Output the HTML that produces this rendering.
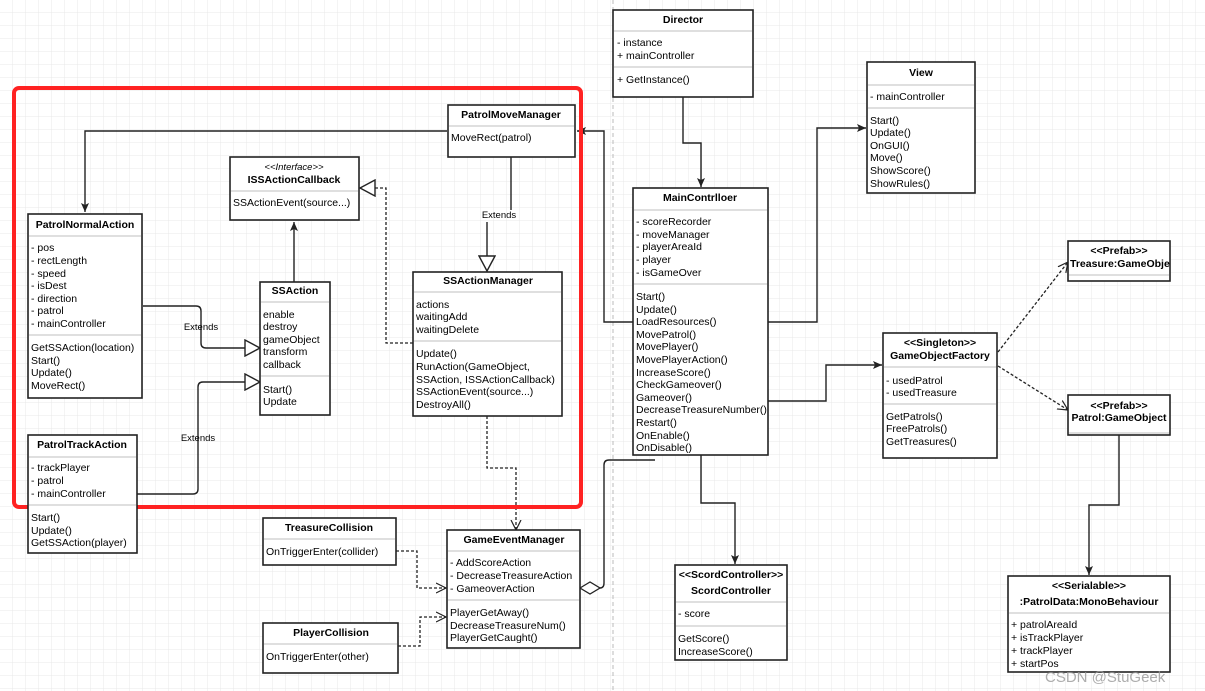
<!DOCTYPE html>
<html><head><meta charset="utf-8"><style>
html,body{margin:0;padding:0;background:#fff;}
svg{display:block;font-family:"Liberation Sans",Arial,sans-serif;font-size:10.5px;}
.b{fill:#fff;stroke:#222;stroke-width:1.6}
.d{stroke:#ccc;stroke-width:1.2}
.t{font-weight:bold;text-anchor:middle}
.c{text-anchor:middle}
.l{fill:none;stroke:#222;stroke-width:1.4}
.dl{fill:none;stroke:#222;stroke-width:1.3;stroke-dasharray:3,2}
</style></head><body>
<svg width="1205" height="691" viewBox="0 0 1205 691">
<defs>
<pattern id="g" width="13" height="13" patternUnits="userSpaceOnUse"><path d="M13 0V13H0" fill="none" stroke="#e8e8e8" stroke-width="1"/></pattern>
<marker id="fa" markerWidth="10" markerHeight="10" refX="9" refY="5" orient="auto" markerUnits="userSpaceOnUse"><path d="M0,1 L9,5 L0,9 L2,5Z" fill="#222"/></marker>
<marker id="oa" markerWidth="12" markerHeight="12" refX="10" refY="6" orient="auto" markerUnits="userSpaceOnUse"><path d="M0,1 L10,6 L0,11" fill="none" stroke="#222" stroke-width="1.2"/></marker>
<marker id="ht" markerWidth="18" markerHeight="18" refX="16" refY="9" orient="auto" markerUnits="userSpaceOnUse"><path d="M1,1 L16,9 L1,17Z" fill="#fff" stroke="#222" stroke-width="1.4"/></marker>
</defs>
<rect width="1205" height="691" fill="url(#g)"/>
<line x1="613" y1="0" x2="613" y2="691" stroke="#bbb" stroke-dasharray="4,3"/>

<!-- connectors -->
<polyline class="l" points="447,131 85,131 85,212" marker-end="url(#fa)"/>
<polyline class="l" points="511,157 511,210"/>
<polyline class="l" points="487,222 487,271" marker-end="url(#ht)"/>
<text x="499" y="218" class="c" font-size="9.5">Extends</text>
<polyline class="l" points="294,282 294,222" marker-end="url(#fa)"/>
<polyline class="dl" points="413,343 386,343 386,188 360,188" marker-end="url(#ht)"/>
<path class="l" d="M143,306 H196 Q201,306 201,311 V343 Q201,348 206,348 H260" marker-end="url(#ht)"/>
<text x="201" y="330" class="c" font-size="9.5">Extends</text>
<path class="l" d="M137,494 H193 Q198,494 198,489 V387 Q198,382 203,382 H260" marker-end="url(#ht)"/>
<text x="198" y="441" class="c" font-size="9.5">Extends</text>
<polyline class="dl" points="487,416 487,468 516,468 516,530" marker-end="url(#oa)"/>
<polyline class="l" points="633,322 604,322 604,131 577,131" marker-end="url(#fa)"/>
<polyline class="l" points="683,97 683,143 701,143 701,187" marker-end="url(#fa)"/>
<polyline class="l" points="768,322 817,322 817,128 866,128" marker-end="url(#fa)"/>
<polyline class="l" points="768,401 826,401 826,365 882,365" marker-end="url(#fa)"/>
<polyline class="dl" points="998,352 1068,262" marker-end="url(#oa)"/>
<polyline class="dl" points="998,366 1068,410" marker-end="url(#oa)"/>
<polyline class="l" points="1119,435 1119,505 1089,505 1089,575" marker-end="url(#fa)"/>
<polyline class="l" points="701,455 701,503 735,503 735,564" marker-end="url(#fa)"/>
<path class="l" d="M600,588 Q604,588 604,583 V465 Q604,460 609,460 H655"/>
<path d="M580,588 L590,582 L600,588 L590,594Z" fill="#fff" stroke="#222" stroke-width="1.3"/>
<polyline class="dl" points="396,551 417,551 417,588 446,588" marker-end="url(#oa)"/>
<polyline class="dl" points="398,646 420,646 420,617 446,617" marker-end="url(#oa)"/>

<!-- red frame -->
<rect x="14" y="88" width="567" height="419" rx="5" fill="none" stroke="#f22" stroke-width="4"/>

<!-- Director -->
<rect class="b" x="613" y="10" width="140" height="87"/>
<line class="d" x1="614" y1="31" x2="752" y2="31"/><line class="d" x1="614" y1="67" x2="752" y2="67"/>
<text x="683" y="23" class="t">Director</text>
<text x="617" y="46">- instance</text><text x="617" y="59">+ mainController</text><text x="617" y="83">+ GetInstance()</text>

<!-- View -->
<rect class="b" x="867" y="62" width="108" height="131"/>
<line class="d" x1="868" y1="85" x2="974" y2="85"/><line class="d" x1="868" y1="108" x2="974" y2="108"/>
<text x="921" y="76" class="t">View</text>
<text x="870" y="100">- mainController</text>
<text x="870" y="124">Start()</text><text x="870" y="136">Update()</text><text x="870" y="149">OnGUI()</text><text x="870" y="161">Move()</text><text x="870" y="174">ShowScore()</text><text x="870" y="187">ShowRules()</text>

<!-- MainContrlloer -->
<rect class="b" x="633" y="188" width="135" height="267"/>
<line class="d" x1="634" y1="210" x2="767" y2="210"/><line class="d" x1="634" y1="284" x2="767" y2="284"/>
<text x="700" y="201" class="t">MainContrlloer</text>
<text x="636" y="225">- scoreRecorder</text><text x="636" y="238">- moveManager</text><text x="636" y="250">- playerAreaId</text><text x="636" y="263">- player</text><text x="636" y="276">- isGameOver</text>
<text x="636" y="300">Start()</text><text x="636" y="313">Update()</text><text x="636" y="325">LoadResources()</text><text x="636" y="338">MovePatrol()</text><text x="636" y="350">MovePlayer()</text><text x="636" y="363">MovePlayerAction()</text><text x="636" y="376">IncreaseScore()</text><text x="636" y="388">CheckGameover()</text><text x="636" y="401">Gameover()</text><text x="636" y="413">DecreaseTreasureNumber()</text><text x="636" y="426">Restart()</text><text x="636" y="439">OnEnable()</text><text x="636" y="451">OnDisable()</text>

<!-- Treasure prefab -->
<rect class="b" x="1068" y="241" width="102" height="40"/>
<line class="d" x1="1069" y1="275" x2="1169" y2="275"/>
<text x="1119" y="254" class="t">&lt;&lt;Prefab&gt;&gt;</text>
<svg x="1068" y="241" width="102" height="40"><text x="2" y="26" font-weight="bold">Treasure:GameObject</text></svg>

<!-- Factory -->
<rect class="b" x="883" y="333" width="114" height="125"/>
<line class="d" x1="884" y1="367" x2="996" y2="367"/><line class="d" x1="884" y1="404" x2="996" y2="404"/>
<text x="940" y="346" class="t">&lt;&lt;Singleton&gt;&gt;</text><text x="940" y="359" class="t">GameObjectFactory</text>
<text x="886" y="384">- usedPatrol</text><text x="886" y="396">- usedTreasure</text>
<text x="886" y="420">GetPatrols()</text><text x="886" y="432">FreePatrols()</text><text x="886" y="445">GetTreasures()</text>

<!-- Patrol prefab -->
<rect class="b" x="1068" y="395" width="102" height="40"/>
<line class="d" x1="1069" y1="433" x2="1169" y2="433"/>
<text x="1119" y="409" class="t">&lt;&lt;Prefab&gt;&gt;</text><text x="1119" y="421" class="t">Patrol:GameObject</text>

<!-- PatrolData -->
<rect class="b" x="1008" y="576" width="162" height="96"/>
<line class="d" x1="1009" y1="613" x2="1169" y2="613"/>
<text x="1089" y="589" class="t">&lt;&lt;Serialable&gt;&gt;</text><text x="1089" y="605" class="t">:PatrolData:MonoBehaviour</text>
<text x="1011" y="628">+ patrolAreaId</text><text x="1011" y="641">+ isTrackPlayer</text><text x="1011" y="654">+ trackPlayer</text><text x="1011" y="667">+ startPos</text>

<!-- ScordController -->
<rect class="b" x="675" y="565" width="112" height="95"/>
<line class="d" x1="676" y1="602" x2="786" y2="602"/><line class="d" x1="676" y1="626" x2="786" y2="626"/>
<text x="731" y="578" class="t">&lt;&lt;ScordController&gt;&gt;</text><text x="731" y="594" class="t">ScordController</text>
<text x="678" y="617">- score</text><text x="678" y="642">GetScore()</text><text x="678" y="655">IncreaseScore()</text>

<!-- GameEventManager -->
<rect class="b" x="447" y="530" width="133" height="118"/>
<line class="d" x1="448" y1="551" x2="579" y2="551"/><line class="d" x1="448" y1="600" x2="579" y2="600"/>
<text x="514" y="543" class="t">GameEventManager</text>
<text x="450" y="566">- AddScoreAction</text><text x="450" y="579">- DecreaseTreasureAction</text><text x="450" y="592">- GameoverAction</text>
<text x="450" y="616">PlayerGetAway()</text><text x="450" y="629">DecreaseTreasureNum()</text><text x="450" y="641">PlayerGetCaught()</text>

<!-- TreasureCollision -->
<rect class="b" x="263" y="518" width="133" height="47"/>
<line class="d" x1="264" y1="539" x2="395" y2="539"/>
<text x="329" y="531" class="t">TreasureCollision</text><text x="266" y="555">OnTriggerEnter(collider)</text>

<!-- PlayerCollision -->
<rect class="b" x="263" y="623" width="135" height="50"/>
<line class="d" x1="264" y1="644" x2="397" y2="644"/>
<text x="331" y="636" class="t">PlayerCollision</text><text x="266" y="660">OnTriggerEnter(other)</text>

<!-- PatrolNormalAction -->
<rect class="b" x="28" y="214" width="114" height="184"/>
<line class="d" x1="29" y1="236" x2="141" y2="236"/><line class="d" x1="29" y1="335" x2="141" y2="335"/>
<text x="85" y="228" class="t">PatrolNormalAction</text>
<text x="31" y="251">- pos</text><text x="31" y="264">- rectLength</text><text x="31" y="277">- speed</text><text x="31" y="289">- isDest</text><text x="31" y="302">- direction</text><text x="31" y="314">- patrol</text><text x="31" y="327">- mainController</text>
<text x="31" y="351">GetSSAction(location)</text><text x="31" y="364">Start()</text><text x="31" y="376">Update()</text><text x="31" y="389">MoveRect()</text>

<!-- PatrolTrackAction -->
<rect class="b" x="28" y="435" width="109" height="118"/>
<line class="d" x1="29" y1="457" x2="136" y2="457"/><line class="d" x1="29" y1="505" x2="136" y2="505"/>
<text x="82" y="448" class="t">PatrolTrackAction</text>
<text x="31" y="471">- trackPlayer</text><text x="31" y="484">- patrol</text><text x="31" y="497">- mainController</text>
<text x="31" y="521">Start()</text><text x="31" y="534">Update()</text><text x="31" y="546">GetSSAction(player)</text>

<!-- SSAction -->
<rect class="b" x="260" y="282" width="70" height="133"/>
<line class="d" x1="261" y1="302" x2="329" y2="302"/><line class="d" x1="261" y1="376" x2="329" y2="376"/>
<text x="295" y="294" class="t">SSAction</text>
<text x="263" y="318">enable</text><text x="263" y="330">destroy</text><text x="263" y="343">gameObject</text><text x="263" y="355">transform</text><text x="263" y="368">callback</text>
<text x="263" y="393">Start()</text><text x="263" y="405">Update</text>

<!-- ISSActionCallback -->
<rect class="b" x="230" y="157" width="129" height="63"/>
<line class="d" x1="231" y1="191" x2="358" y2="191"/>
<text x="294" y="170" class="c" font-style="italic" font-size="9.5">&lt;&lt;Interface&gt;&gt;</text>
<text x="294" y="183" class="t">ISSActionCallback</text>
<text x="233" y="206">SSActionEvent(source...)</text>

<!-- PatrolMoveManager -->
<rect class="b" x="448" y="105" width="127" height="52"/>
<line class="d" x1="449" y1="126" x2="574" y2="126"/>
<text x="511" y="118" class="t">PatrolMoveManager</text><text x="451" y="141">MoveRect(patrol)</text>

<!-- SSActionManager -->
<rect class="b" x="413" y="272" width="149" height="144"/>
<line class="d" x1="414" y1="292" x2="561" y2="292"/><line class="d" x1="414" y1="341" x2="561" y2="341"/>
<text x="488" y="284" class="t">SSActionManager</text>
<text x="416" y="308">actions</text><text x="416" y="320">waitingAdd</text><text x="416" y="333">waitingDelete</text>
<text x="416" y="357">Update()</text><text x="416" y="370">RunAction(GameObject,</text><text x="416" y="383">SSAction, ISSActionCallback)</text><text x="416" y="395">SSActionEvent(source...)</text><text x="416" y="408">DestroyAll()</text>

<text x="1045" y="682" font-size="15" fill="#999" fill-opacity="0.8">CSDN @StuGeek</text>
</svg>
</body></html>
